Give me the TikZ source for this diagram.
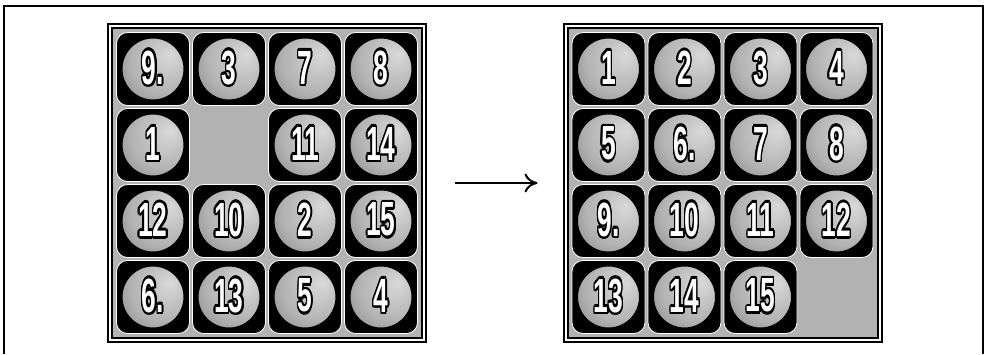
\documentclass[tikz,border=0pt]{standalone}
\usepackage{fontspec}
\usepackage{xcolor}
\usepackage{graphicx}
\usepackage{contour}
\usepackage{tikz}
\usetikzlibrary{arrows.meta}
\newfontfamily\tilefont{Liberation Sans}
\contourlength{2.6pt}
\newcommand{\tnum}[1]{\scalebox{0.55}[1]{\textcolor{white}{\contour{black}{\tilefont\bfseries\fontsize{48}{48}\selectfont #1}}}}
\pgfdeclareradialshading{dotball}{\pgfpoint{12bp}{10bp}}{color(0bp)=(black!15); color(22bp)=(black!30); color(42bp)=(black!55); color(50bp)=(black!72)}
\tikzset{
  board/.style={minimum size=314pt,inner sep=0pt,fill=black!30,draw=black,line width=2pt,double=white,double distance=2pt},
  tile/.style={minimum size=73pt,inner sep=0pt,rounded corners=11pt,fill=black,draw=white,line width=0.8pt,
    path picture={\shade[shading=dotball,draw=black,line width=1pt] (path picture bounding box.center) circle[radius=31pt];}}
}
\begin{document}
\begin{tikzpicture}[x=1pt,y=-1pt]
\useasboundingbox (0,0) rectangle (986,354);
\draw[line width=2pt] (4,354) |- (983,6) -- (983,354);
\node[board] (left) at (267,183) {};
\node[board] (right) at (722.5,183) {};
\node[tile] (l9) at (153,69) {\tnum{9.}};
\node[tile] (l3) at (229,69) {\tnum{3}};
\node[tile] (l7) at (305,69) {\tnum{7}};
\node[tile] (l8) at (381,69) {\tnum{8}};
\node[tile] (l1) at (153,145) {\tnum{1}};
\node[tile] (l11) at (305,145) {\tnum{11}};
\node[tile] (l14) at (381,145) {\tnum{14}};
\node[tile] (l12) at (153,221) {\tnum{12}};
\node[tile] (l10) at (229,221) {\tnum{10}};
\node[tile] (l2) at (305,221) {\tnum{2}};
\node[tile] (l15) at (381,221) {\tnum{15}};
\node[tile] (l6) at (153,297) {\tnum{6.}};
\node[tile] (l13) at (229,297) {\tnum{13}};
\node[tile] (l5) at (305,297) {\tnum{5}};
\node[tile] (l4) at (381,297) {\tnum{4}};
\node[tile] (r1) at (608.5,69) {\tnum{1}};
\node[tile] (r2) at (684.5,69) {\tnum{2}};
\node[tile] (r3) at (760.5,69) {\tnum{3}};
\node[tile] (r4) at (836.5,69) {\tnum{4}};
\node[tile] (r5) at (608.5,145) {\tnum{5}};
\node[tile] (r6) at (684.5,145) {\tnum{6.}};
\node[tile] (r7) at (760.5,145) {\tnum{7}};
\node[tile] (r8) at (836.5,145) {\tnum{8}};
\node[tile] (r9) at (608.5,221) {\tnum{9.}};
\node[tile] (r10) at (684.5,221) {\tnum{10}};
\node[tile] (r11) at (760.5,221) {\tnum{11}};
\node[tile] (r12) at (836.5,221) {\tnum{12}};
\node[tile] (r13) at (608.5,297) {\tnum{13}};
\node[tile] (r14) at (684.5,297) {\tnum{14}};
\node[tile] (r15) at (760.5,297) {\tnum{15}};
\draw[-{To[length=13pt,width=19pt]},line width=2pt,shorten <=30pt,shorten >=27pt] (left) -- (right);
\end{tikzpicture}
\end{document}
